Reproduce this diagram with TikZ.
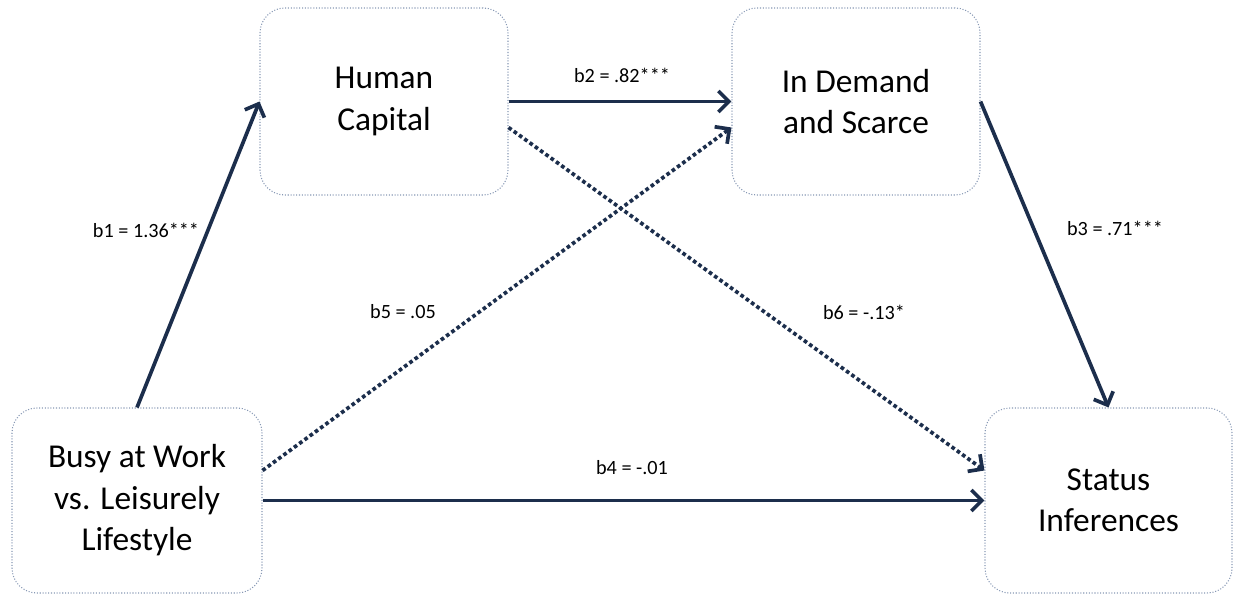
\documentclass[tikz,border=0pt]{standalone}
\usepackage{fontspec}
\setmainfont{Carlito}
\usetikzlibrary{arrows.meta}
\definecolor{pathnavy}{HTML}{1C2E4C}
\definecolor{boxline}{HTML}{8798B4}

\begin{document}
\begin{tikzpicture}
\tikzset{varbox/.style={draw=boxline,densely dotted,line width=0.6pt,rounded corners=0.5cm,
    align=center,font=\fontsize{19}{23.6}\selectfont,inner sep=0pt},
  coef/.style={font=\fontsize{11.5}{13}\selectfont,inner sep=1pt},
  path/.style={draw=pathnavy,line width=2.1pt,-{Straight Barb[length=6pt,width=12pt,line width=2.1pt]}},
  weak/.style={path,dash pattern=on 2.1pt off 1.6pt}}

\useasboundingbox (0,0) rectangle (24.66,-11.9);

% the four variables
\node[varbox,minimum width=5cm,minimum height=3.7cm] (busy) at (2.74,-10.01) {Busy at Work\\vs. Leisurely\\Lifestyle};
\node[varbox,minimum width=4.96cm,minimum height=3.74cm] (hc) at (7.68,-2.03) {Human\\Capital};
\node[varbox,minimum width=4.96cm,minimum height=3.74cm] (dem) at (17.12,-2.03) {In Demand\\and Scarce};
\node[varbox,minimum width=4.94cm,minimum height=3.7cm] (stat) at (22.17,-10.01) {Status\\Inferences};

% paths
\draw[path] (busy.north) -- (hc.west);
\draw[path] (hc.east) -- (dem.west);
\draw[path] (dem.east) -- (stat.north);
\draw[path] (busy.east) -- (stat.west);
\draw[weak] ([yshift=0.6cm]busy.east) -- ([yshift=-0.52cm]dem.west);
\draw[weak] ([yshift=-0.52cm]hc.east) -- ([yshift=0.6cm]stat.west);

% coefficients
\node[coef] (b1) at (2.92,-4.6) {b1 = 1.36***};
\node[coef] (b2) at (12.44,-1.5) {b2 = .82***};
\node[coef] (b3) at (22.3,-4.56) {b3 = .71***};
\node[coef] (b4) at (12.64,-9.36) {b4 = -.01};
\node[coef] (b5) at (8.06,-6.24) {b5 = .05};
\node[coef] (b6) at (17.28,-6.24) {b6 = -.13*};

\end{tikzpicture}
\end{document}
